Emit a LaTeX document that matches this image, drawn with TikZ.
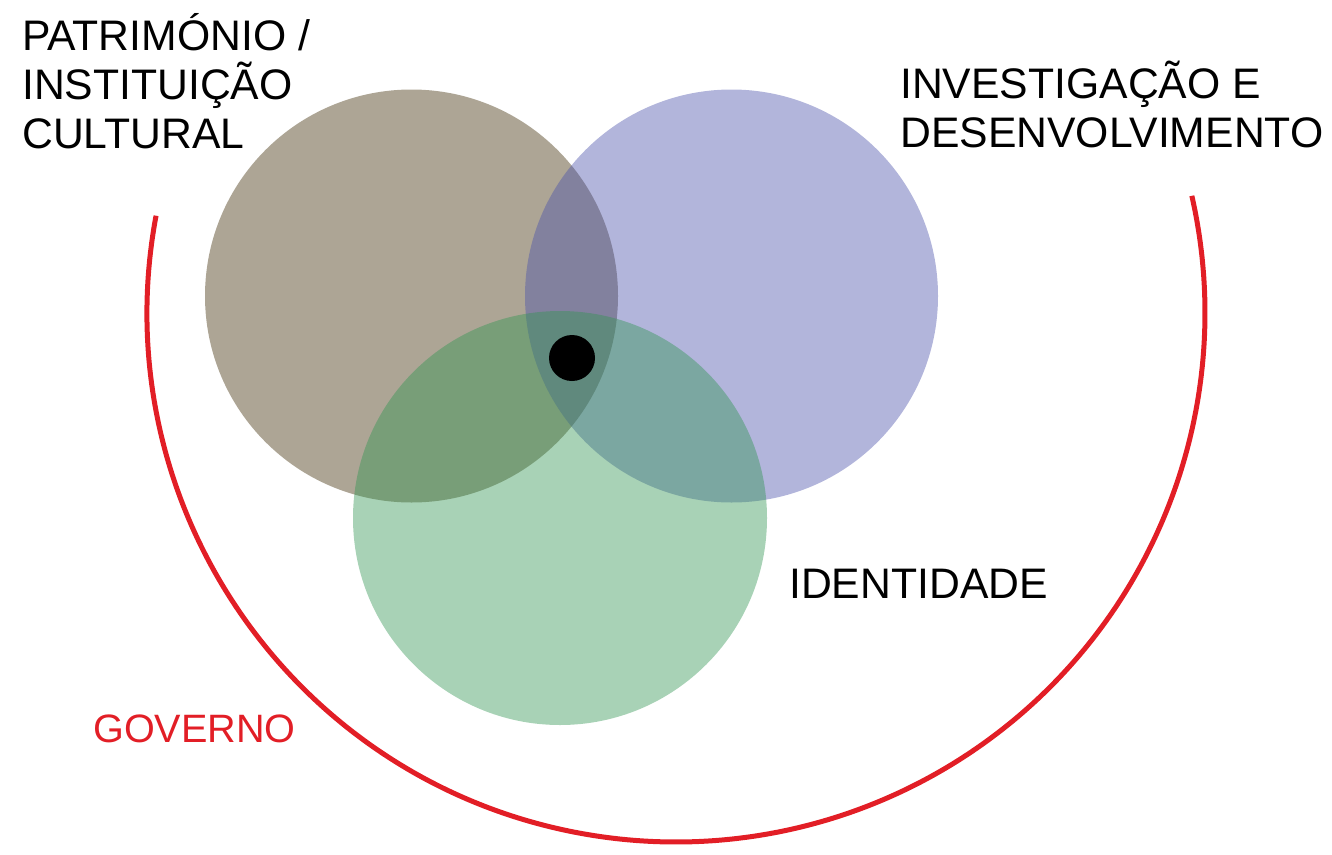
\documentclass[tikz,border=0pt]{standalone}
\usepackage{fontspec}
\setmainfont{Liberation Sans}
\definecolor{brownc}{RGB}{60,41,3}
\definecolor{bluec}{RGB}{72,79,169}
\definecolor{greenc}{RGB}{48,148,81}
\definecolor{redc}{RGB}{226,30,38}
\tikzset{
  venn/.style={fill opacity=0.42},
  lbl/.style={anchor=base west, inner sep=0pt, font=\fontsize{42.7}{49}\selectfont, text=black},
}
\begin{document}
\begin{tikzpicture}[x=1pt,y=-1pt]
\useasboundingbox (0,0) rectangle (1332,854);
% circles
\fill[venn, brownc] (411.5,296) circle[radius=206.5];
\fill[venn, bluec] (731.5,296) circle[radius=206.5];
\fill[venn, greenc] (560,518) circle[radius=207];
\fill[black] (572,358) circle[radius=23];
% governo arc
\draw[redc, line width=5pt] ([shift={(190.6:529)}]676,313) arc[start angle=190.6, end angle=-12.8, radius=529];
% labels
\node[lbl] (pat1) at (22,50) {PATRIMÓNIO /};
\node[lbl] (pat2) at (22,99) {INSTITUIÇÃO};
\node[lbl] (pat3) at (22,148) {CULTURAL};
\node[lbl] (inv1) at (900,98) {INVESTIGAÇÃO E};
\node[lbl] (inv2) at (900,147) {DESENVOLVIMENTO};
\node[lbl] (ide) at (789,598) {IDENTIDADE};
\node[lbl, text=redc, font=\fontsize{39.6}{48}\selectfont] (gov) at (93,742) {GOVERNO};
\end{tikzpicture}
\end{document}
